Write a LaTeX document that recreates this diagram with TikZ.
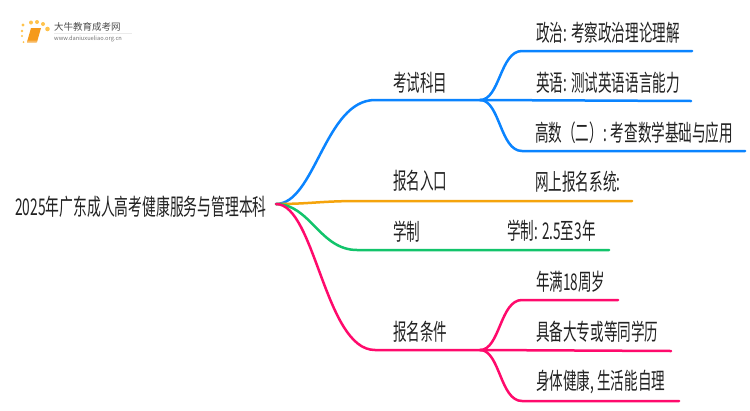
\documentclass[tikz,border=0pt]{standalone}
\usepackage{fontspec}
\usetikzlibrary{calc}
\setmainfont[FakeStretch=0.59]{Noto Sans CJK SC}
\newfontfamily\rootfont[FakeStretch=0.6]{Noto Sans CJK SC}
\newfontfamily\logofont{Noto Sans CJK SC}
\definecolor{cblue}{HTML}{0A84FF}
\definecolor{corange}{HTML}{F5A40C}
\definecolor{cgreen}{HTML}{12C46B}
\definecolor{cpink}{HTML}{FF0A6C}
\definecolor{ctext}{HTML}{222222}
\definecolor{cdot}{HTML}{FFC34D}
\definecolor{cbook}{HTML}{F59A1B}
\tikzset{
 lbl/.style={inner sep=0pt,anchor=west,text=ctext,font=\fontsize{23}{26}\selectfont},
 rootlbl/.style={lbl,font=\rootfont\fontsize{23}{26}\selectfont},
 conn/.style={line width=2.5pt,line cap=round},
}
\begin{document}
\begin{tikzpicture}[x=1pt,y=-1pt]
\useasboundingbox (0,0) rectangle (750,410);
\fill[white] (0,0) rectangle (750,410);
% logo
\foreach \x/\y/\s in {23/25/1.7,31/22.5/2,37/22/2,43/24/2,47.5/29/2.3,22/31/1.4,22/36/1.2,23.5/42/1}{
 \fill[cdot] (\x,\y) circle (\s);
}
\fill[cbook] (31,28) -- (41,28) -- (37,42) -- (27,42) -- cycle;
\fill[cbook!70!white] (27,40.5) -- (37,40.5) -- (36.5,42.5) -- (27,42.5) -- cycle;
\node[inner sep=0pt,anchor=west,text=black!70,font=\logofont\fontsize{9.5}{10}\selectfont] (brand) at (54,27) {大牛教育成考网};
\node[inner sep=0pt,anchor=west,text=black!55,font=\logofont\fontsize{5.7}{7}\selectfont] (url) at (54,39) {www.daniuxueliao.org.cn};
\fill[black!8] (54,33) rectangle (132,33.6);
% nodes
\node[rootlbl] (root) at (15,207) {2025年广东成人高考健康服务与管理本科};
\node[lbl] (a) at (393,83) {考试科目};
\node[lbl] (b) at (393,181) {报名入口};
\node[lbl] (c) at (393,232) {学制};
\node[lbl] (d) at (393,332) {报名条件};
\node[lbl] (a1) at (536,33) {政治: 考察政治理论理解};
\node[lbl] (a2) at (536,83) {英语: 测试英语语言能力};
\node[lbl] (a3) at (535,133) {高数（二）: 考查数学基础与应用};
\node[lbl] (b1) at (535,182) {网上报名系统:};
\node[lbl] (c1) at (507,231) {学制: 2.5至3年};
\node[lbl] (d1) at (536,282) {年满18周岁};
\node[lbl] (d2) at (536,332) {具备大专或等同学历};
\node[lbl] (d3) at (536,382) {身体健康, 生活能自理};
% junctions and free ends
\coordinate (o) at (276,204);
\coordinate (ja) at (480,100);
\coordinate (jb) at (632,201);
\coordinate (jc) at (609,250);
\coordinate (jd) at (480,350);
\coordinate (ea1) at (692,51);
\coordinate (ea2) at (691,101);
\coordinate (ea3) at (745,151);
\coordinate (ed1) at (618,300);
\coordinate (ed2) at (671,351);
\coordinate (ed3) at (679,401);
% branches
\draw[conn,cblue] (o) .. controls (315,204) and (325,100) .. (375,100) -- (ja);
\draw[conn,cblue] (ja) .. controls (500,100) and (500,51) .. (522,51) -- (ea1);
\draw[conn,cblue] (ja) -- (ea2);
\draw[conn,cblue] (ja) .. controls (500,100) and (500,151) .. (522,151) -- (ea3);
\draw[conn,corange] (o) .. controls (310,204) and (320,201) .. (360,201) -- (jb);
\draw[conn,cgreen] (o) .. controls (310,204) and (320,250) .. (357,250) -- (jc);
\draw[conn,cpink] (o) .. controls (315,204) and (325,350) .. (375,350) -- (jd);
\draw[conn,cpink] (jd) .. controls (500,350) and (500,300) .. (522,300) -- (ed1);
\draw[conn,cpink] (jd) -- (ed2);
\draw[conn,cpink] (jd) .. controls (500,350) and (500,401) .. (522,401) -- (ed3);
\end{tikzpicture}
\end{document}
